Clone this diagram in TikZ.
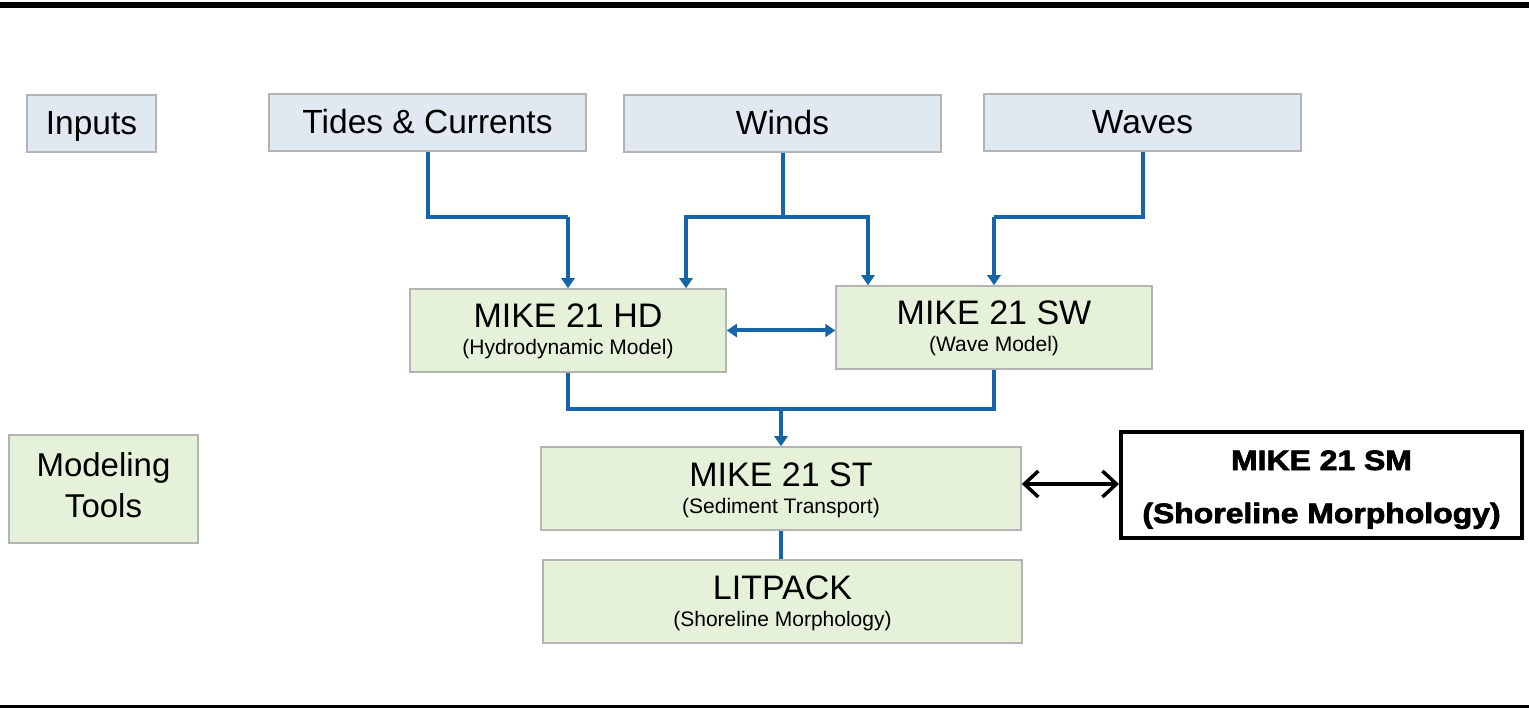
\documentclass[tikz,border=0pt]{standalone}
\usepackage{fontspec}
\setmainfont{Liberation Sans}
\newfontfamily\blackfont[FakeStretch=1.14,FakeBold=2.5]{Liberation Sans Bold}
\usetikzlibrary{arrows.meta,calc}
\definecolor{inblue}{HTML}{E0E8F2}
\definecolor{mgreen}{HTML}{E5F1D9}
\definecolor{bord}{HTML}{B4B4B4}
\definecolor{lineblue}{HTML}{1565A8}
\tikzset{
  inbox/.style={draw=bord, line width=1.5pt, fill=inblue, rectangle, inner sep=0pt, text height=24pt, text depth=2pt, font=\fontsize{33.5}{36}\selectfont},
  modbox/.style={draw=bord, line width=1.5pt, fill=mgreen, rectangle, inner sep=0pt, align=center, text height=51pt, text depth=2pt, font=\fontsize{21}{27}\selectfont},
  smbox/.style={draw=black, line width=4pt, fill=white, rectangle, inner sep=0pt, align=center, text height=78pt, text depth=2pt, font=\blackfont\fontsize{28}{53}\selectfont},
  bl/.style={draw=lineblue, line width=4pt},
  bla/.style={bl, -{Triangle[length=10pt,width=13pt]}},
  blaa/.style={bl, {Triangle[length=10pt,width=13pt]}-{Triangle[length=10pt,width=13pt]}},
  blk/.style={draw=black, line width=3.5pt, {Straight Barb[length=14pt,width=26pt]}-{Straight Barb[length=14pt,width=26pt]}}
}
\newcommand{\ttl}[1]{\fontsize{34}{27}\selectfont #1}
\newcommand{\sub}[1]{\fontsize{21}{27}\selectfont #1}
\begin{document}
\begin{tikzpicture}[x=1pt,y=-1pt]
\useasboundingbox (0,0) rectangle (1529,708);
% borders
\fill[black] (0,2) rectangle (1529,8);
\fill[black] (0,705) rectangle (1529,707.5);
% inputs
\node[inbox, minimum width=129pt, minimum height=57pt] (inputs) at (91.5,123.5) {Inputs};
\node[inbox, minimum width=317pt, minimum height=57pt] (tides) at (427.5,122.5) {Tides \& Currents};
\node[inbox, minimum width=317pt, minimum height=57pt] (winds) at (782.5,123.5) {Winds};
\node[inbox, minimum width=317pt, minimum height=57pt] (waves) at (1142.5,122.5) {Waves};
% models
\node[modbox, minimum width=316pt, minimum height=83pt] (hd) at (568,330.5) {\ttl{MIKE 21 HD}\\\sub{(Hydrodynamic Model)}};
\node[modbox, minimum width=316pt, minimum height=83pt] (sw) at (994,327.5) {\ttl{MIKE 21 SW}\\\sub{(Wave Model)}};
\node[modbox, minimum width=480pt, minimum height=83pt] (st) at (781,488.5) {\ttl{MIKE 21 ST}\\\sub{(Sediment Transport)}};
\node[modbox, minimum width=479pt, minimum height=83pt] (lit) at (782.5,601.5) {\ttl{LITPACK}\\\sub{(Shoreline Morphology)}};
\node[modbox, minimum width=189pt, minimum height=108pt, text height=58pt, text depth=2pt, font=\fontsize{33}{41}\selectfont] (tools) at (103.5,489) {Modeling\\Tools};
\node[smbox, minimum width=401pt, minimum height=106pt] (sm) at (1321.5,485) {MIKE 21 SM\\(Shoreline Morphology)};
% helper rows
\coordinate (yA) at (0,217);
\coordinate (yB) at (0,409);
% connectors
\draw[bl] (tides.south) |- (hd.north |- yA);
\draw[bla] (hd.north |- yA) -- (hd.north);
\draw[bl] (winds.south) -- (winds.south |- yA);
\draw[bla] (winds.south |- yA) -| ([xshift=118pt]hd.north);
\draw[bla] (winds.south |- yA) -| ([xshift=-126pt]sw.north);
\draw[bl] (waves.south) |- (sw.north |- yA);
\draw[bla] (sw.north |- yA) -- (sw.north);
\draw[blaa] (hd.east) -- (hd.east -| sw.west);
\draw[bl] (hd.south) |- (sw.south |- yB) -- (sw.south);
\draw[bla] (st.north |- yB) -- (st.north);
\draw[bl] (st.south) -- (st.south |- lit.north);
\draw[blk] ([yshift=1pt]sm.west -| st.east) -- ([yshift=1pt]sm.west);
\end{tikzpicture}
\end{document}
